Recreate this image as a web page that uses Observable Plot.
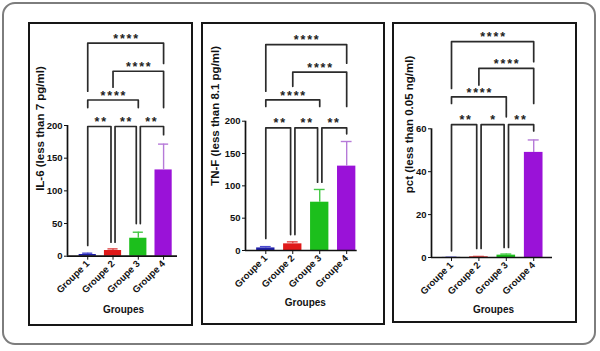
<!DOCTYPE html>
<html><head><meta charset="utf-8">
<script src="https://cdn.jsdelivr.net/npm/d3@7"></script>
<script src="https://cdn.jsdelivr.net/npm/@observablehq/plot@0.6"></script>
<style>
body{margin:0;background:#fff;}
#wrap{position:relative;width:600px;height:351px;background:#fff;overflow:hidden;font-family:"Liberation Sans",Arial,sans-serif;}
.outer{position:absolute;left:2px;top:2px;width:594px;height:343px;box-sizing:border-box;border:2.5px solid #7d7d7d;border-radius:13px;}
.panel{position:absolute;}
.panel svg{display:block;overflow:visible;}
.frame{position:absolute;box-sizing:border-box;border:2px solid #161616;pointer-events:none;}
</style></head><body><div id="wrap"><div class="outer"></div></div>
<script>
// ---- data ----
const groups = ["Groupe 1", "Groupe 2", "Groupe 3", "Groupe 4"];
const colors = ["#1f1fa8", "#e01a1a", "#1cbf1c", "#9a12d8"];
const errColors = ["#4b4bd0", "#e04848", "#45c845", "#b67ad8"];

const il6Mean = [2.6, 8.7, 27.5, 132];
const il6Sd = [2.0, 2.5, 9.2, 39.5];
const tnfMean = [4.0, 10.3, 74.7, 130.5];
const tnfSd = [2.0, 3.1, 19.7, 38.1];
const pctMean = [0.05, 0.3, 1.1, 49.0];
const pctSd = [0.05, 0.2, 0.5, 5.8];

const il6Ticks = [0, 50, 100, 150, 200];
const tnfTicks = [0, 50, 100, 150, 200];
const pctTicks = [0, 20, 40, 60];

const pairs = [[1, 2], [2, 3], [3, 4], [1, 3], [2, 4], [1, 4]];
const il6Stars = ["**", "**", "**", "****", "****", "****"];
const tnfStars = ["**", "**", "**", "****", "****", "****"];
const pctStars = ["**", "*", "**", "****", "****", "****"];

const il6Levels = [198.5, 198.5, 198.5, 239, 283, 326];
const il6LeftEnds = [16.4, 21.4, 50, 227.5, 258.6, 252.5];
const il6RightEnds = [21.4, 50, 186, 227.5, 227.5, 295];

const tnfLevels = [189.8, 189.8, 189.8, 233, 275.8, 318.6];
const tnfLeftEnds = [18.6, 24.7, 105.6, 222.7, 254, 246.4];
const tnfRightEnds = [24.7, 105.6, 180.5, 222.7, 222.7, 289.7];

const pctLevels = [61.9, 61.9, 61.9, 74.9, 88.2, 100.6];
const pctLeftEnds = [3.1, 4.2, 4.7, 71.8, 80.4, 78.8];
const pctRightEnds = [4.2, 4.7, 59, 65.6, 71.8, 91.3];

const il6Label = "IL-6 (less than 7 pg/ml)";
const tnfLabel = "TN-F (less than 8.1 pg/ml)";
const pctLabel = "pct (less than 0.05 ng/ml)";
const xLabel = "Groupes";

// ---- drawing ----
const FONT = "'Liberation Sans', Arial, sans-serif";
function panel(cfg, lay) {
  const {means, sds, ticks, yMax, levels, leftEnds, rightEnds, stars, label} = cfg;
  const rows = groups.map((g, k) => ({g, i: k + 1, mean: means[k], top: means[k] + sds[k]}));
  const hw = 0.34, cap = 0.2, off = 0.08;
  const br = pairs.map(([i, j], k) => {
    const L = levels[k];
    const sharedL = pairs.some(([a, b], m) => m !== k && levels[m] === L && b === i);
    const sharedR = pairs.some(([a, b], m) => m !== k && levels[m] === L && a === j);
    return {k, i, j, L, xl: i + (sharedL ? off : 0), xr: j - (sharedR ? off : 0),
            le: leftEnds[k], re: rightEnds[k], s: stars[k], mid: (i + j) / 2};
  });
  const segs = br.flatMap(b => [
    {id: b.k, x: b.xl, y: b.le}, {id: b.k, x: b.xl, y: b.L},
    {id: b.k, x: b.xr, y: b.L}, {id: b.k, x: b.xr, y: b.re}
  ]);
  const svg = Plot.plot({
    width: lay.w, height: lay.h,
    marginLeft: lay.ml, marginRight: lay.mr, marginTop: lay.mt, marginBottom: lay.mb,
    x: {domain: lay.xd},
    y: {domain: [0, yMax]},
    color: {type: "identity"},
    style: {fontFamily: FONT, fontWeight: "bold", background: "transparent", overflow: "visible", color: "#111"},
    marks: [
      Plot.rect(rows, {x1: d => d.i - hw, x2: d => d.i + hw, y1: 0, y2: "mean", fill: d => colors[d.i - 1]}),
      Plot.ruleX(rows, {x: "i", y1: "mean", y2: "top", stroke: d => errColors[d.i - 1], strokeWidth: 1.4}),
      Plot.ruleY(rows, {y: "top", x1: d => d.i - cap, x2: d => d.i + cap, stroke: d => errColors[d.i - 1], strokeWidth: 1.4}),
      Plot.ruleY([0], {strokeWidth: 1.7}),
      Plot.ruleX([lay.xd[0]], {strokeWidth: 1.7}),
      Plot.axisY({ticks, tickSize: 3, tickPadding: 2, fontSize: 9.5, label: null}),
      Plot.axisX({ticks: groups.map((g, k) => k + 1), tickFormat: v => groups[v - 1], tickRotate: -45,
                  tickSize: 4, tickPadding: 2, fontSize: 9.5, label: null}),
      Plot.line(segs, {x: "x", y: "y", z: "id", stroke: "#2b2b2b", strokeWidth: 1.7}),
      Plot.text(br, {x: "mid", y: "L", text: "s", dy: -4.3, dx: 0.9, fontSize: 12.5, fill: "#222"}),
      Plot.text([label], {frameAnchor: "left", rotate: -90, dx: lay.ldx, fontSize: 11.5, fontWeight: "bold"}),
      Plot.text([xLabel], {frameAnchor: "bottom", dx: lay.gdx, dy: lay.gdy, fontSize: 10, fontWeight: "bold"})
    ]
  });
  svg.querySelectorAll("text").forEach(t => {
    if (/^\*+$/.test(t.textContent)) t.setAttribute("letter-spacing", "1.8");
  });
  const wrap = document.getElementById("wrap");
  const box = document.createElement("div");
  box.className = "panel";
  box.style.left = lay.x + "px"; box.style.top = lay.y + "px";
  box.appendChild(svg);
  wrap.appendChild(box);
  const fr = document.createElement("div");
  fr.className = "frame";
  fr.style.left = lay.x + "px"; fr.style.top = lay.y + "px";
  fr.style.width = lay.w + "px"; fr.style.height = lay.h + "px";
  wrap.appendChild(fr);
}

panel({means: il6Mean, sds: il6Sd, ticks: il6Ticks, yMax: 200, levels: il6Levels,
       leftEnds: il6LeftEnds, rightEnds: il6RightEnds, stars: il6Stars, label: il6Label},
      {x: 28, y: 22, w: 165, h: 304, ml: 39, mr: 16, mt: 103, mb: 70.3, xd: [0.2, 4.55], ldx: -27, gdx: 1, gdy: 57});
panel({means: tnfMean, sds: tnfSd, ticks: tnfTicks, yMax: 200, levels: tnfLevels,
       leftEnds: tnfLeftEnds, rightEnds: tnfRightEnds, stars: tnfStars, label: tnfLabel},
      {x: 201, y: 22, w: 184, h: 303, ml: 44, mr: 28.3, mt: 98.7, mb: 75, xd: [0.247, 4.39], ldx: -30, gdx: 4, gdy: 55});
panel({means: pctMean, sds: pctSd, ticks: pctTicks, yMax: 60, levels: pctLevels,
       leftEnds: pctLeftEnds, rightEnds: pctRightEnds, stars: pctStars, label: pctLabel},
      {x: 392, y: 22, w: 185, h: 301, ml: 39, mr: 25, mt: 106.3, mb: 66, xd: [0.27, 4.686], ldx: -22, gdx: 1.5, gdy: 55});
</script></body></html>
